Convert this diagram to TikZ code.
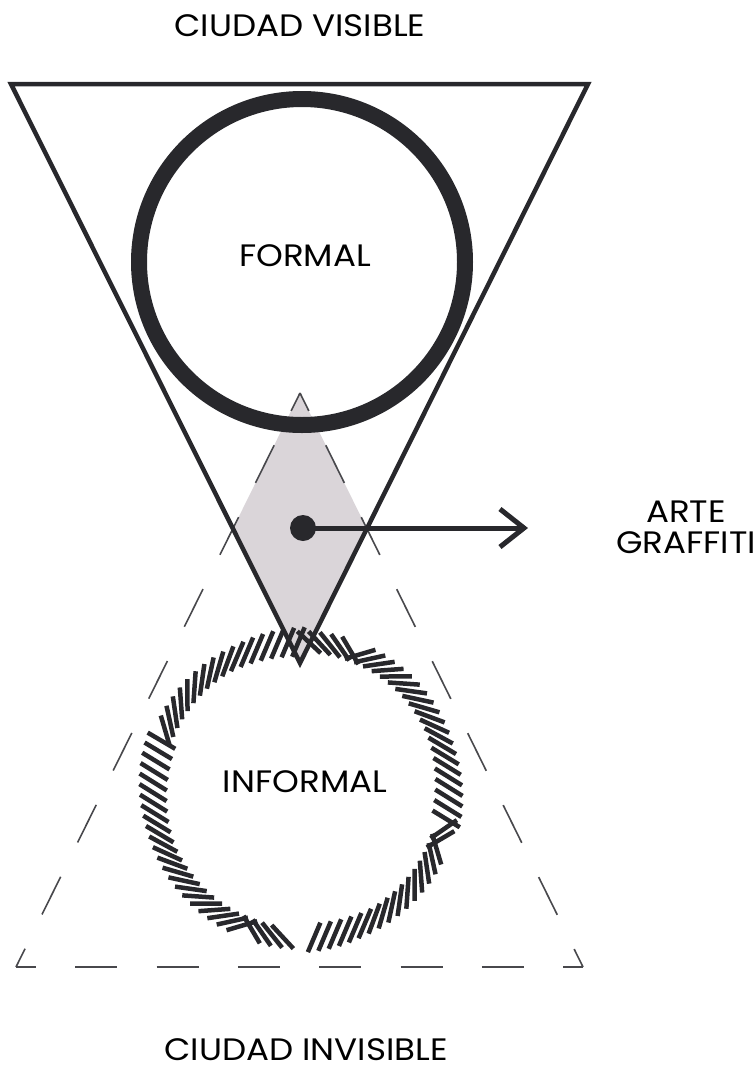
\documentclass[tikz,border=0pt]{standalone}
\usepackage{fontspec}
\setmainfont{Poppins}[FakeStretch=1.1]
\usetikzlibrary{arrows.meta}
\definecolor{ink}{RGB}{40,40,44}
\definecolor{diamondfill}{RGB}{218,213,217}
\begin{document}
\begin{tikzpicture}[x=1pt,y=1pt,
  solidtri/.style={draw=ink, line width=4.5pt, line join=miter},
  dashedge/.style={draw=ink!85, line width=1.6pt},
  formalring/.style={draw=ink, line width=16pt, circle, inner sep=0pt, minimum size=326pt},
  hatchstroke/.style={draw=ink, line width=4.5pt},
  lbl/.style={font=\fontsize{31}{31}\selectfont, text=black, inner sep=0pt},
  arrowline/.style={draw=ink, line width=5pt, -{Straight Barb[length=24pt,width=38pt]}},
  ]
\useasboundingbox (0,0) rectangle (754,-1071);
% coordinates
\coordinate (TL) at (11,-84);
\coordinate (TR) at (588,-84);
\coordinate (TA) at (300,-663);
\coordinate (DA) at (300,-393);
\coordinate (DL) at (16,-967);
\coordinate (DR) at (583,-967);
\coordinate (ML) at (intersection of TL--TA and DA--DL);
\coordinate (MR) at (intersection of TR--TA and DA--DR);
% grey overlap
\fill[diamondfill] (DA) -- (MR) -- (TA) -- (ML) -- cycle;
% dashed triangle (invisible city)
\draw[dashedge, dash pattern=on 42pt off 38.25pt, dash phase=22pt] (DA) -- (DL);
\draw[dashedge, dash pattern=on 42pt off 38.25pt, dash phase=22pt] (DA) -- (DR);
\draw[dashedge, dash pattern=on 42pt off 39.3pt, dash phase=22pt] (DL) -- (DR);
% solid triangle (visible city)
\draw[solidtri] (TL) -- (TR) -- (TA) -- cycle;
% formal circle
\node[formalring] (formal) at (302,-262) {};
% informal hatched ring
\coordinate (ic) at (301,-790);
\foreach \i in {0,...,87} {
  \pgfmathsetmacro\t{\i*4.090909+1}
  \pgfmathsetmacro\ok{or(\t<266,\t>274)}
  \ifnum\ok=1
    \pgfmathsetmacro\ph{ifthenelse(or(and(\t>88,\t<157),and(\t>270,\t<346)),67,-18-14*cos(\t)*cos(\t))}
    \pgfmathsetmacro\ta{\t+90}
    \pgfmathsetmacro\de{mod(\ph-\ta+630,180)-90}
    \pgfmathsetmacro\dd{ifthenelse(abs(\de)<40,ifthenelse(\de<0,-40,40),\de)}
    \pgfmathsetmacro\d{\ta+\dd}
    \draw[hatchstroke] (ic) ++(\t:148) ++(\d+180:16) -- ++(\d:32);
  \fi
}
% arrow
\node[circle, fill=ink, minimum size=26pt, inner sep=0pt] (dot) at (303,-528) {};
\coordinate (tip) at (528,-528);
\draw[arrowline] (dot.center) -- (tip);
% labels
\node[lbl] (visible) at (300,-26) {CIUDAD VISIBLE};
\node[lbl] (formaltxt) at (305,-256) {FORMAL};
\node[lbl] (informaltxt) at (305,-782) {INFORMAL};
\node[lbl, align=center] (arte) at (686,-527) {ARTE\\GRAFFITI};
\node[lbl] (invisible) at (306,-1050) {CIUDAD INVISIBLE};
\end{tikzpicture}
\end{document}
